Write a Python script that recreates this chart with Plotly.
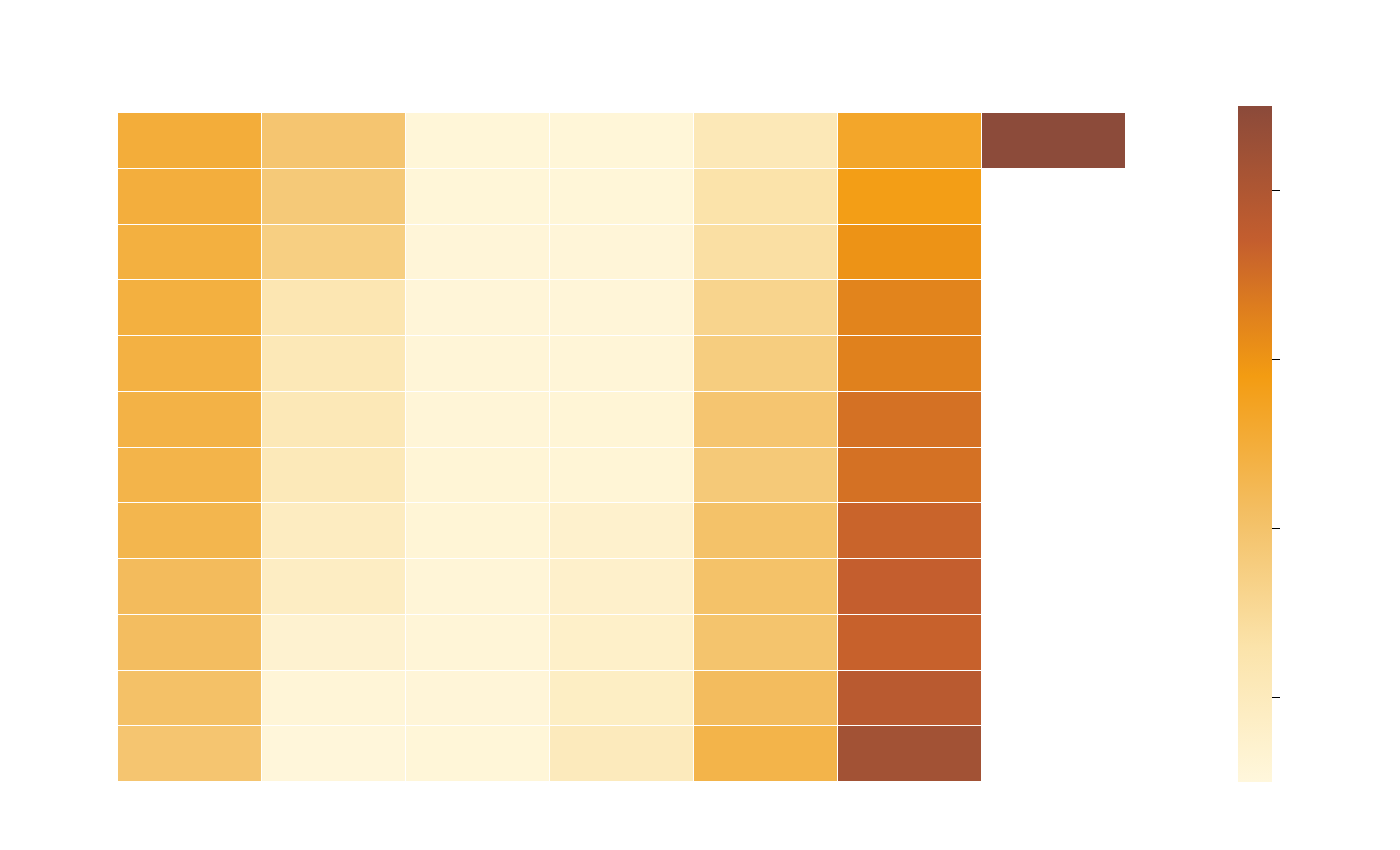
import plotly.graph_objects as go

columns = ["C1", "C2", "C3", "C4", "C5", "C6", "C7"]
rows = ["R1", "R2", "R3", "R4", "R5", "R6", "R7", "R8", "R9", "R10", "R11", "R12"]

col1 = [25.0, 24.7, 24.4, 24.4, 24.1, 23.8, 23.4, 23.0, 21.6, 21.2, 20.4, 19.4]
col2 = [19.4, 18.6, 17.4, 11.8, 11.0, 11.0, 10.6, 9.4, 9.0, 7.0, 5.8, 5.4]
col3 = [5.6, 5.6, 5.7, 5.7, 5.8, 5.8, 5.9, 5.9, 5.8, 5.8, 5.7, 5.6]
col4 = [5.6, 5.6, 5.7, 5.7, 5.8, 5.9, 6.0, 7.4, 7.8, 8.0, 8.8, 10.2]
col5 = [11.0, 13.0, 13.8, 16.2, 17.8, 19.4, 18.6, 20.2, 20.2, 19.8, 21.4, 23.4]
col6 = [26.6, 28.6, 30.2, 32.2, 32.6, 34.6, 34.6, 36.2, 37.0, 36.6, 38.6, 41.8]
col7 = [44.8, None, None, None, None, None, None, None, None, None, None, None]

series = [col1, col2, col3, col4, col5, col6, col7]
z = [[series[c][r] for c in range(len(columns))] for r in range(len(rows))]

colorscale = [
    [0.0, "#FFF7DC"],
    [0.2, "#FBE3AA"],
    [0.4, "#F3BE62"],
    [0.6, "#F39C12"],
    [0.7, "#DE7E1E"],
    [0.8, "#C45E2E"],
    [1.0, "#8B4A3A"],
]

fig = go.Figure(go.Heatmap(
    z=z, x=columns, y=rows,
    zmin=5, zmax=45,
    colorscale=colorscale,
    xgap=1, ygap=1,
    colorbar=dict(
        thickness=34, outlinewidth=0,
        lenmode="pixels", len=676,
        y=0, yanchor="bottom", ypad=0,
        x=1.101, xanchor="left", xpad=10,
        tickvals=[10, 20, 30, 40],
        ticks="outside", ticklen=8, tickcolor="black", tickwidth=1,
        showticklabels=False,
    ),
))

fig.update_layout(
    width=1400, height=850,
    paper_bgcolor="white", plot_bgcolor="white",
    margin=dict(l=110, r=282, t=105, b=76),
    xaxis=dict(showticklabels=False, showgrid=False, zeroline=False, ticks=""),
    yaxis=dict(showticklabels=False, showgrid=False, zeroline=False, ticks="",
               autorange="reversed"),
)

fig.write_html("out.html")
